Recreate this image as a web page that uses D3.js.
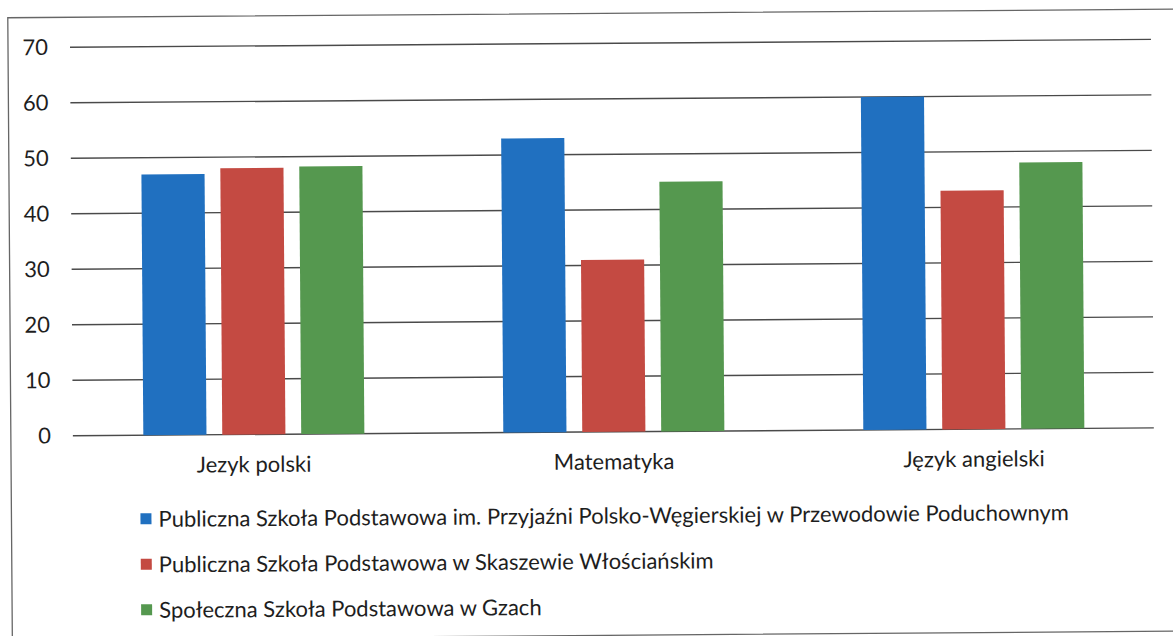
<!DOCTYPE html>
<html><head><meta charset="utf-8">
<script src="https://cdn.jsdelivr.net/npm/d3@7"></script>
<style>
html,body{margin:0;padding:0;background:#fff;}
svg text{font-family:Lato,"Liberation Sans",sans-serif;fill:#1e1e1e;}
</style></head>
<body>
<svg id="c" width="1173" height="636"></svg>
<script>
const categories = ["Jezyk polski", "Matematyka", "Język angielski"];
const seriesNames = [
  "Publiczna Szkoła Podstawowa im. Przyjaźni Polsko-Węgierskiej w Przewodowie Poduchownym",
  "Publiczna Szkoła Podstawowa w Skaszewie Włościańskim",
  "Społeczna Szkoła Podstawowa w Gzach"
];
const seriesA = [47, 53, 60];
const seriesB = [48, 31, 43];
const seriesC = [48.2, 45, 48];
const yTicks = [0, 10, 20, 30, 40, 50, 60, 70];
const colors = ["#2070c0", "#c44a42", "#55984f"];

const series = [seriesA, seriesB, seriesC];
const svg = d3.select("#c");
// slight tilt of the scanned page
const root = svg.append("g").attr("transform", "rotate(-0.42,586,318)");

// outer frame
root.append("rect").attr("x", 10).attr("y", 13.5).attr("width", 1180).attr("height", 622)
  .attr("fill", "none").attr("stroke", "#666").attr("stroke-width", 1.3);

const x0 = d3.scaleBand().domain(categories).range([73, 1153]);
const x1 = d3.scaleBand().domain([0,1,2]).range([0, x0.bandwidth()]).paddingInner(0.2).paddingOuter(0.88);
const y = d3.scaleLinear().domain([0, 70]).range([432, 43.5]);

// gridlines
root.append("g").selectAll("line").data(yTicks).join("line")
  .attr("x1", 72).attr("x2", 1153)
  .attr("y1", d => y(d)).attr("y2", d => y(d))
  .attr("stroke", "#4a4a4a").attr("stroke-width", 1.4);

// y axis labels
const yAxis = d3.axisLeft(y).tickValues(yTicks).tickSize(0).tickPadding(0);
const ya = root.append("g").attr("transform", "translate(50,0)").call(yAxis);
ya.select(".domain").remove();
ya.selectAll("text").attr("font-size", 22).style("font-family", "Lato, sans-serif").attr("fill", "#1e1e1e");

// bars
const groups = root.append("g").selectAll("g").data(categories).join("g")
  .attr("transform", c => `translate(${x0(c)},0)`);
groups.selectAll("rect").data((c, ci) => series.map((s, si) => ({si, v: s[ci]}))).join("rect")
  .attr("x", d => x1(d.si)).attr("width", x1.bandwidth())
  .attr("y", d => y(d.v)).attr("height", d => y(0) - y(d.v))
  .attr("fill", d => colors[d.si]);

// x axis labels
const xAxis = d3.axisBottom(x0).tickSize(0).tickPadding(22);
const xa = root.append("g").attr("transform", `translate(0,${y(0)})`).call(xAxis);
xa.select(".domain").remove();
xa.selectAll("text").attr("font-size", 22).style("font-family", "Lato, sans-serif").attr("fill", "#1e1e1e");

// legend
const leg = root.append("g").attr("transform", "translate(139,0)");
const legY = d3.scalePoint().domain([0,1,2]).range([516, 607]);
const items = leg.selectAll("g").data(seriesNames).join("g")
  .attr("transform", (d, i) => `translate(0,${legY(i)})`);
items.append("rect").attr("x", 0).attr("y", -6).attr("width", 11).attr("height", 11)
  .attr("fill", (d, i) => colors[i]);
items.append("text").attr("x", 18).attr("y", 0).attr("dy", "0.35em")
  .attr("font-size", 22).text(d => d);
</script>
</body></html>
